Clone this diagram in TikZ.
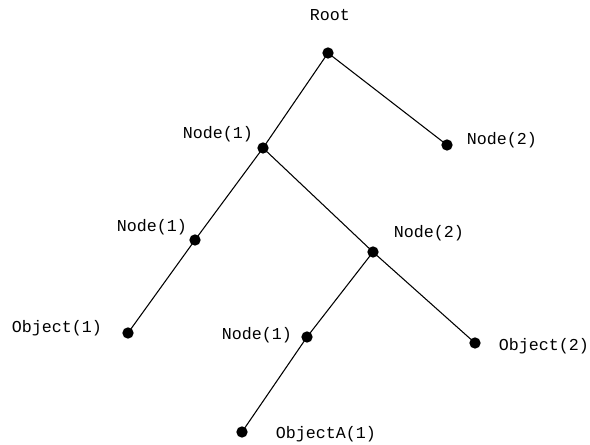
\documentclass[tikz,border=0pt]{standalone}
\usepackage{fontspec}
\setmonofont{Liberation Mono}
\begin{document}
\begin{tikzpicture}[x=0.75pt,y=-0.75pt,
  dot/.style={circle,fill=black,inner sep=0pt,minimum size=8.5pt},
  lbl/.style={font=\ttfamily\fontsize{12.5}{14}\selectfont,inner sep=0pt},
  edge/.style={line width=0.8pt}]
\useasboundingbox (0,0) rectangle (590,445);
\node[dot] (root) at (328,53) {};
\node[dot] (n1) at (263,148) {};
\node[dot] (n2) at (447,145) {};
\node[dot] (n11) at (195,240) {};
\node[dot] (n12) at (373,252) {};
\node[dot] (o1) at (128,333) {};
\node[dot] (n121) at (307,337) {};
\node[dot] (o2) at (475,343) {};
\node[dot] (oa) at (242,432) {};
\node[lbl] (lroot) at (330,15) {Root};
\node[lbl] (ln1) at (218,134) {Node(1)};
\node[lbl] (ln2) at (502,140) {Node(2)};
\node[lbl] (ln11) at (152,227) {Node(1)};
\node[lbl] (ln12) at (429,233) {Node(2)};
\node[lbl] (lo1) at (57,328) {Object(1)};
\node[lbl] (ln121) at (257,335) {Node(1)};
\node[lbl] (lo2) at (544,346) {Object(2)};
\node[lbl] (loa) at (326,434) {ObjectA(1)};
\draw[edge] (root.center) -- (n1.center);
\draw[edge] (root.center) -- (n2.center);
\draw[edge] (n1.center) -- (n11.center);
\draw[edge] (n1.center) -- (n12.center);
\draw[edge] (n11.center) -- (o1.center);
\draw[edge] (n12.center) -- (n121.center);
\draw[edge] (n12.center) -- (o2.center);
\draw[edge] (n121.center) -- (oa.center);
\end{tikzpicture}
\end{document}
